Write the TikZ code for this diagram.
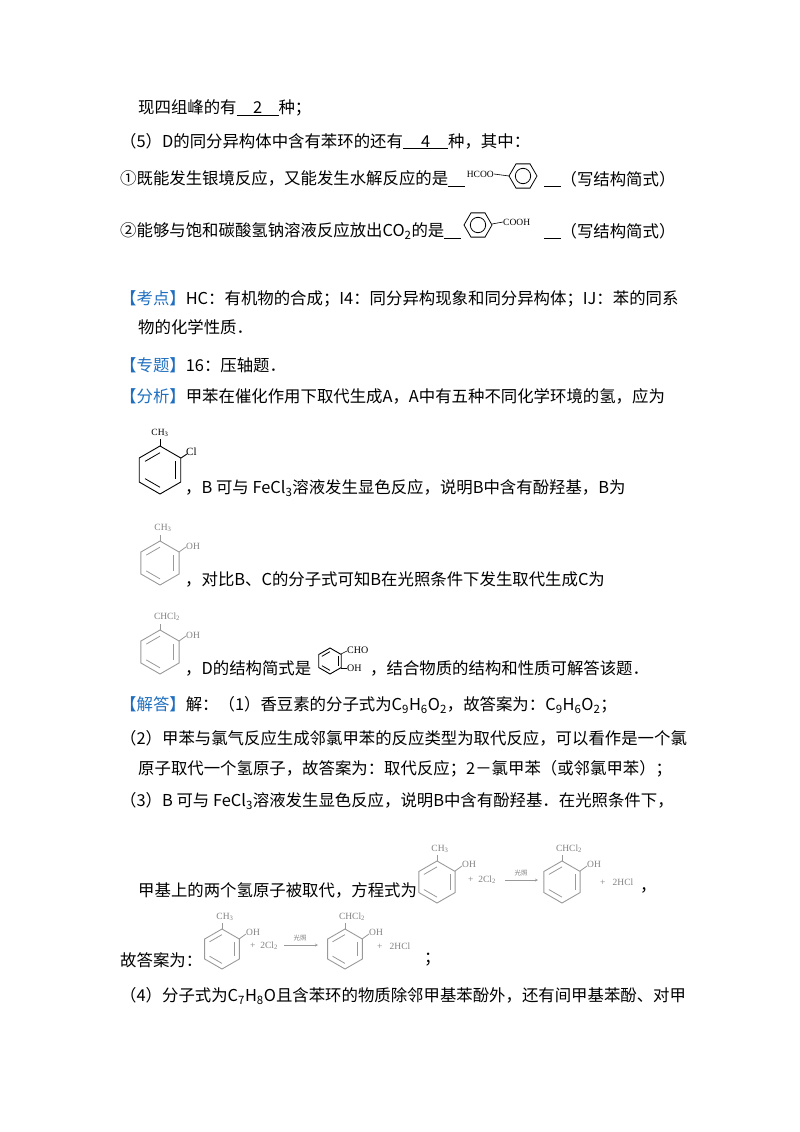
\documentclass[tikz,border=0pt]{standalone}
\usepackage{fontspec}
\setmainfont{Noto Sans CJK SC}
\newfontfamily\lat{Liberation Serif}
\definecolor{kblue}{HTML}{1F6FC0}
\newcommand\benz[4]{% x y r color
 \draw[#4,line width=0.9pt] (#1,#2) ++(90:#3) -- ++(210:#3) -- ++(270:#3) -- ++(330:#3) -- ++(30:#3) -- ++(90:#3) -- cycle;
 \foreach \s/\e in {90/150,210/270,330/30}{\draw[#4,line width=0.8pt] ($(#1,#2)+(\s:0.72*#3)$) -- ($(#1,#2)+(\e:0.72*#3)$);}}
\newcommand\flatbenz[3]{% horizontal ring with circle
 \draw[line width=0.8pt] (#1,#2) ++(0:#3) -- ++(120:#3) -- ++(180:#3) -- ++(240:#3) -- ++(300:#3) -- ++(0:#3) -- cycle;
 \draw[line width=0.8pt] (#1,#2) circle[radius=0.55*#3];}
\usetikzlibrary{calc}
\begin{document}
\begin{tikzpicture}[x=1pt,y=-1pt,
 t/.style={anchor=west,inner sep=0pt,font=\fontsize{16.4}{19}\selectfont},
 sm/.style={inner sep=0pt,font=\lat\fontsize{9.5}{10}\selectfont,text=#1},sm/.default=black]
\useasboundingbox (0,0) rectangle (800,1132);
\node[t] (l1) at (138,108) {现四组峰的有\underline{\hspace{1em}2\hspace{1em}}种；};
\node[t] (l2) at (120,141) {（5）D的同分异构体中含有苯环的还有\underline{\hspace{1.1em}4\hspace{1.1em}}种，其中：};
\node[t] (l3) at (120,179) {①既能发生银境反应，又能发生水解反应的是\underline{\hspace{1em}}};
\node[sm,anchor=east] (hc) at (494,174) {HCOO};
\draw[line width=0.6pt] (hc.east) -- (509,176);
\flatbenz{523}{176}{14}
\node[t] (l3b) at (544,179) {\underline{\hspace{1em}}（写结构简式）};
\node[t] (l4) at (120,231) {②能够与饱和碳酸氢钠溶液反应放出CO\textsubscript{2}的是\underline{\hspace{1em}}};
\flatbenz{478}{225}{14}
\node[sm,anchor=west] (co) at (503,222) {COOH};
\draw[line width=0.6pt] (492,224) -- (co.west);
\node[t] (l4b) at (544,231) {\underline{\hspace{1em}}（写结构简式）};
\node[t] (k1) at (120,299) {\textcolor{kblue}{【考点】}HC：有机物的合成；I4：同分异构现象和同分异构体；IJ：苯的同系};
\node[t] (k2) at (138,327) {物的化学性质．};
\node[t] (k3) at (120,365) {\textcolor{kblue}{【专题】}16：压轴题．};
\node[t] (k4) at (120,396) {\textcolor{kblue}{【分析】}甲苯在催化作用下取代生成A，A中有五种不同化学环境的氢，应为};
% A
\benz{160}{470}{24}{black}
\draw[line width=0.9pt] (160,446) -- (160,439);
\node[sm] (ca) at (160,433) {CH\textsubscript{3}};
\draw[line width=0.9pt] (181,458) -- (187,454);
\node[sm,anchor=west,font=\lat\fontsize{11}{12}\selectfont] (cl) at (186,452) {Cl};
\node[t] (k5) at (185,488) {，B 可与 FeCl\textsubscript{3}溶液发生显色反应，说明B中含有酚羟基，B为};
% B
\benz{160}{563}{22}{gray!80}
\draw[gray!80,line width=0.8pt] (160,541) -- (160,535);
\node[sm=gray] at (163,528) {CH\textsubscript{3}};
\draw[gray!80,line width=0.8pt] (179,552) -- (186,547);
\node[sm=gray,anchor=west] at (186,546) {OH};
\node[t] (k6) at (185,579) {，对比B、C的分子式可知B在光照条件下发生取代生成C为};
% C
\benz{160}{652}{22}{gray!80}
\draw[gray!80,line width=0.8pt] (160,630) -- (160,624);
\node[sm=gray] at (167,617) {CHCl\textsubscript{2}};
\draw[gray!80,line width=0.8pt] (179,641) -- (186,636);
\node[sm=gray,anchor=west] at (186,635) {OH};
\node[t] (k7) at (185,668) {，D的结构简式是};
\benz{330}{661}{13}{black}
\draw[line width=0.6pt] (341,654) -- (347,651);
\draw[line width=0.6pt] (341,668) -- (347,668);
\node[sm,anchor=west,font=\lat\fontsize{10}{11}\selectfont] at (347,650) {CHO};
\node[sm,anchor=west,font=\lat\fontsize{10}{11}\selectfont] at (347,668) {OH};
\node[t] (k8) at (370,668) {，结合物质的结构和性质可解答该题．};
\node[t] (j1) at (120,705) {\textcolor{kblue}{【解答】}解：（1）香豆素的分子式为C\textsubscript{9}H\textsubscript{6}O\textsubscript{2}，故答案为：C\textsubscript{9}H\textsubscript{6}O\textsubscript{2}；};
\node[t] (j2) at (120,738) {（2）甲苯与氯气反应生成邻氯甲苯的反应类型为取代反应，可以看作是一个氯};
\node[t] (j3) at (138,769) {原子取代一个氢原子，故答案为：取代反应；2－氯甲苯（或邻氯甲苯）；};
\node[t] (j4) at (120,801) {（3）B 可与 FeCl\textsubscript{3}溶液发生显色反应，说明B中含有酚羟基．在光照条件下，};
\node[t] (j5) at (138,890) {甲基上的两个氢原子被取代，方程式为};
% reaction 1
\benz{437}{882}{21}{gray!80}
\draw[gray!80,line width=0.8pt] (437,861) -- (437,855);
\node[sm=gray] at (440,849) {CH\textsubscript{3}};
\draw[gray!80,line width=0.8pt] (455,871) -- (462,866);
\node[sm=gray,anchor=west] at (462,864) {OH};
\node[sm=gray,anchor=west] at (468,880) {+\ \ 2Cl\textsubscript{2}};
\draw[gray!80,-stealth] (505,880) -- (538,880);
\node[sm=gray,font=\fontsize{6.5}{7}\selectfont] at (521,873) {光照};
\benz{562}{882}{21}{gray!80}
\draw[gray!80,line width=0.8pt] (562,861) -- (562,855);
\node[sm=gray] at (569,849) {CHCl\textsubscript{2}};
\draw[gray!80,line width=0.8pt] (580,871) -- (587,866);
\node[sm=gray,anchor=west] at (587,864) {OH};
\node[sm=gray,anchor=west] at (600,882) {+\ \ \ 2HCl};
\node[t] at (640,890) {，};
\node[t] (j6) at (120,960) {故答案为：};
% reaction 2
\benz{222}{949}{20}{gray!80}
\draw[gray!80,line width=0.8pt] (222,929) -- (222,923);
\node[sm=gray] at (225,917) {CH\textsubscript{3}};
\draw[gray!80,line width=0.8pt] (239,939) -- (246,934);
\node[sm=gray,anchor=west] at (246,932) {OH};
\node[sm=gray,anchor=west] at (250,946) {+\ \ 2Cl\textsubscript{2}};
\draw[gray!80,-stealth] (284,945) -- (318,945);
\node[sm=gray,font=\fontsize{6.5}{7}\selectfont] at (300,938) {光照};
\benz{345}{949}{20}{gray!80}
\draw[gray!80,line width=0.8pt] (345,929) -- (345,923);
\node[sm=gray] at (352,917) {CHCl\textsubscript{2}};
\draw[gray!80,line width=0.8pt] (362,939) -- (369,934);
\node[sm=gray,anchor=west] at (369,932) {OH};
\node[sm=gray,anchor=west] at (377,946) {+\ \ \ 2HCl};
\node[t] at (424,960) {；};
\node[t] (j7) at (120,996) {（4）分子式为C\textsubscript{7}H\textsubscript{8}O且含苯环的物质除邻甲基苯酚外，还有间甲基苯酚、对甲};
\end{tikzpicture}
\end{document}
